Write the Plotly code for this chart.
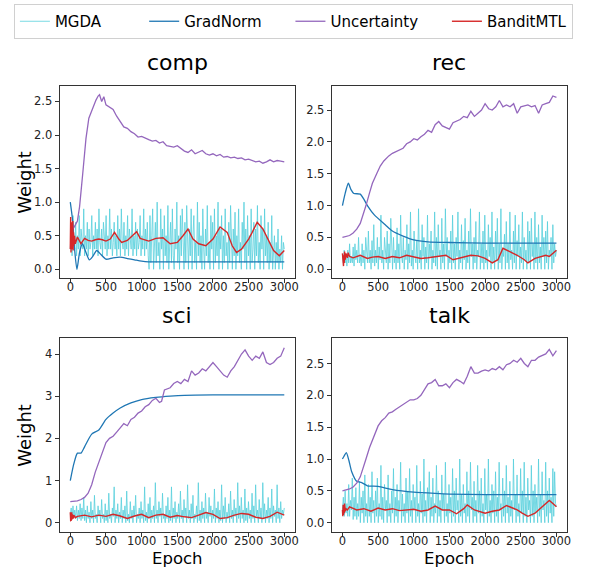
import numpy as np
import plotly.graph_objects as go

# ---------------- data ----------------
panels = ["comp", "rec", "sci", "talk"]

# MGDA (noisy), evenly spaced samples over epochs 0..3000
comp_mgda = [.3,.6,.2,.8,.4,.3,.7,.2,.5,.3,.8,.2,.6,.4,.3,.9,.2,.5,.3,.7,
             .2,.6,.3,.4,.8,.2,.5,.3,.7,.3,.6,.2,.9,.4,.3,.6,.2,.7,.4,.3,
             .8,.2,.5,.3,.9,.3,.6,.2,.4,.7,.3,.5,.2,.8,.3,.6,.2,.9,.4,.3,
             .7,.2,.5,.3,.8,.2,.6,.4,.3,.9,.2,.5,.3,.7,.2,.6,.3,.4,.8,.2,
             .5,.3,.9,.2,.6,.3,.7,.2,
             0,.8,.1,.5,.9,0,.3,.7,.1,1,.2,.4,0,.9,.3,.6,0,.8,.2,.5,
             .1,.95,0,.4,.7,.1,.9,.2,0,.6,.3,1,.1,.5,0,.8,.2,.9,.4,0,
             .7,.1,.95,.3,0,.6,.2,.9,0,.5,.8,.1,.4,0,1,.2,.7,.1,.5,0,
             .9,.3,0,.6,.2,.95,.1,.4,0,.8,.3,.7,0,.9,.1,.5,.2,1,0,.6,
             .3,.8,0,.5,.1,.9,.2,.4,0,.7,.1,.95,.3,0,.6,.2,.85,0,.5,.2,
             .9,.1,.4,0,.7,.3,1,.1,.6,0,.8,.2,.5,0,.9,.1,.3,.7,0,.6,
             .2,.95,.1,.4,0,.8,.3,.6,0,.9,.2,.5,.1,.7,0,.4,.1,.8,0,.3,
             .5,0,.4,.1,.6,0,.3,.1,.5,0,.4,.3]
rec_mgda = [.2,.1,.3,.1,.2,.05,.3,.1,.4,.1,.2,.1,.35,.05,.4,.15,.3,.1,.5,.1,
            .2,.05,.4,.1,.3,0,.5,.2,.1,.6,.1,.3,0,.45,.1,.7,.05,.3,.1,.5,
            0,.35,.15,.85,.1,.3,0,.5,.2,.1,.6,0,.4,.1,.8,.2,0,.5,.1,.3,
            0,.65,.1,.4,0,.85,.2,.1,.5,0,.3,.15,.7,0,.4,.1,.9,.05,.3,0,
            .6,.2,.1,.45,0,.95,.1,.3,0,.7,.2,.5,0,.35,.1,.85,0,.4,.2,.6,
            0,.3,.1,.9,.05,.5,0,.7,.2,.3,0,.8,.1,.4,0,.95,.2,.5,0,.3,
            .1,.6,0,.85,.1,.4,0,.5,.2,.9,0,.3,.1,.7,0,.45,.15,.8,0,.3,
            .1,.6,0,.95,.2,.4,0,.5,.1,.75,0,.3,.2,.9,0,.4,.1,.6,0,.85,
            .1,.3,0,.7,.2,.5,0,.9,.1,.35,0,.6,.15,.8,0,.4,.1,.95,0,.3,
            .2,.55,0,.75,.1,.4,0,.9,.15,.3,0,.6,.1,.85,0,.45,.2,.7,0,.35,
            .1,.9,0,.5,.15,.3,0,.75,.1,.6,0,.8,.2,.4,0,.9,.1,.5,0,.7,
            .1,.35,0,.85,.2,.5,0,.6,.1,.75,0,.3,.2,.5,0,.7,.1,.4,.2,.3]
sci_mgda = [.2,.35,.1,.4,.15,.3,.1,.4,.05,.3,.1,.45,.05,.35,.1,.6,.05,.3,0,.4,
            .1,.25,0,.5,.1,.3,0,.65,.1,.2,0,.4,.15,.3,0,.55,.1,.2,0,.45,
            .05,.3,0,.7,.1,.2,0,.35,.15,.85,0,.3,.1,.45,0,.25,.1,.6,0,.3,
            .1,.4,0,.75,.05,.2,0,.5,.1,.3,0,.4,.15,.65,0,.2,.1,.35,0,.5,
            .1,.3,0,.85,.05,.25,0,.45,.1,.6,0,.3,.1,.4,0,.95,.1,.3,0,.5,
            .15,.35,0,.7,.1,.2,0,.4,.1,.6,0,.3,.05,.85,0,.35,.1,.5,0,.25,
            .1,.45,0,.75,.1,.3,0,.55,.15,.35,0,.9,.1,.3,0,.45,.1,.65,0,.2,
            .1,.4,0,.95,.05,.3,0,.5,.1,.35,0,.7,.1,.25,0,.6,.15,.4,0,.3,
            .1,.8,0,.35,.1,.5,0,.3,.05,.9,0,.4,.1,.6,0,.25,.1,.45,0,.75,
            .1,.3,0,.55,.15,.35,0,.95,.1,.4,0,.6,.1,.3,0,.8,.05,.35,0,.5,
            .1,.3,0,.7,.1,.4,0,.9,.15,.3,0,.55,.1,.35,0,.95,.1,.45,0,.3,
            .1,.6,0,.35,.1,.8,0,.4,.15,.3,0,.9,.1,.35,0,.5,.1,.3,.2,.35]
talk_mgda = [.2,.4,.1,.5,.15,.3,.1,.6,.1,.35,.2,.7,.05,.4,.1,.55,.05,.3,.1,.65,
             0,.4,.15,.5,0,.75,.1,.3,0,.6,.1,.4,0,.8,.15,.35,0,.5,.1,.7,
             0,.3,.1,.9,.05,.4,0,.6,.2,.35,0,.75,.1,.3,0,.5,.15,.85,0,.4,
             .1,.6,0,.35,.2,.95,0,.45,.1,.3,0,.7,.15,.5,0,.85,.1,.35,0,.6,
             .2,.4,0,.9,.1,.3,0,.65,.15,.45,0,1,.1,.35,0,.55,.2,.8,0,.4,
             .1,.7,0,.3,.15,.9,0,.5,.1,.35,0,.75,.2,.45,0,.95,.1,.3,0,.6,
             .15,.4,0,.85,.1,.5,0,.7,.2,.35,0,1,.1,.45,0,.6,.15,.3,0,.8,
             .1,.5,0,.95,.2,.4,0,.65,.1,.35,0,.9,.15,.5,0,.7,.1,.3,0,.85,
             .2,.45,0,1,.1,.35,0,.6,.15,.5,0,.8,.1,.4,0,.95,.2,.3,0,.7,
             .1,.5,0,.9,.15,.4,0,.65,.1,.35,0,1,.2,.45,0,.75,.1,.3,0,.85,
             .15,.5,0,.95,.1,.4,0,.7,.2,.35,0,.9,.1,.5,0,.6,.15,.4,0,1,
             .1,.45,0,.8,.2,.35,0,.95,.1,.5,0,.7,.15,.4,0,.85,.1,.8,.3,.25]

# GradNorm
comp_gn_x = [0,30,60,93,130,170,220,268,320,370,430,500,600,700,800,900,1000,1100,1300,1600,2000,2500,3000]
comp_gn_y = [1.0,0.75,0.3,0.0,0.25,0.38,0.25,0.14,0.2,0.28,0.22,0.15,0.17,0.18,0.16,0.14,0.12,0.11,0.11,0.11,0.11,0.11,0.11]
rec_gn_x = [0,40,83,120,160,250,300,350,450,600,700,850,1000,1200,1500,2000,2500,3000]
rec_gn_y = [1.0,1.2,1.35,1.25,1.19,1.18,1.1,1.0,0.85,0.7,0.6,0.52,0.46,0.43,0.42,0.41,0.41,0.41]
sci_gn_x = [0,50,100,150,200,300,400,500,600,700,850,1000,1200,1400,1600,2000,2500,3000]
sci_gn_y = [1.0,1.4,1.65,1.65,1.8,2.1,2.2,2.45,2.6,2.72,2.84,2.92,2.97,3.0,3.02,3.03,3.03,3.03]
talk_gn_x = [0,25,55,90,130,200,270,350,500,700,1000,1300,1500,2000,2500,3000]
talk_gn_y = [1.0,1.05,1.1,0.98,0.8,0.65,0.63,0.58,0.57,0.52,0.48,0.46,0.45,0.44,0.44,0.44]

# Uncertainty
comp_un_x = [0,50,100,130,175,220,260,300,330,360,390,410,440,470,500,550,600,650,700,750,800,850,900,950,1000,1050,1100,1150,1200,1250,1300,1350,1400,1450,1500,1550,1600,1650,1700,1750,1800,1850,1900,1950,2000,2050,2100,2150,2200,2250,2300,2350,2400,2450,2500,2550,2600,2650,2700,2750,2800,2850,2900,2950,3000]
comp_un_y = [0.57,0.62,0.72,0.93,1.43,1.95,2.25,2.37,2.45,2.52,2.58,2.6,2.5,2.57,2.45,2.42,2.38,2.28,2.2,2.12,2.1,2.05,2.02,1.97,1.98,1.95,1.93,1.91,1.92,1.88,1.9,1.84,1.83,1.82,1.84,1.8,1.76,1.74,1.78,1.72,1.75,1.77,1.72,1.7,1.72,1.69,1.71,1.67,1.68,1.66,1.67,1.65,1.66,1.63,1.64,1.62,1.6,1.61,1.58,1.6,1.63,1.6,1.62,1.61,1.6]
rec_un_x = [0,100,150,200,250,300,330,380,420,480,530,580,650,700,750,800,850,900,950,1000,1050,1100,1150,1200,1250,1300,1350,1400,1450,1500,1550,1600,1650,1700,1750,1800,1850,1900,1950,2000,2050,2100,2150,2200,2250,2300,2350,2400,2450,2500,2550,2600,2650,2700,2750,2800,2850,2900,2950,3000]
rec_un_y = [0.5,0.53,0.57,0.63,0.72,0.88,1.0,1.2,1.35,1.5,1.62,1.7,1.78,1.82,1.85,1.88,1.9,1.97,2.0,2.05,2.03,2.08,2.12,2.18,2.15,2.27,2.32,2.25,2.22,2.2,2.3,2.33,2.35,2.4,2.38,2.48,2.4,2.45,2.5,2.6,2.52,2.5,2.55,2.65,2.55,2.58,2.55,2.6,2.45,2.55,2.57,2.58,2.55,2.57,2.45,2.58,2.6,2.62,2.72,2.7]
sci_un_x = [0,100,150,200,250,300,350,400,450,500,550,600,650,700,750,800,850,900,950,1000,1050,1100,1150,1200,1250,1280,1320,1400,1450,1500,1550,1600,1650,1700,1750,1800,1850,1900,1950,2000,2050,2100,2150,2200,2250,2300,2350,2400,2450,2500,2550,2600,2650,2700,2750,2800,2850,2900,2950,3000]
sci_un_y = [0.5,0.52,0.55,0.6,0.7,0.9,1.2,1.45,1.65,1.9,2.0,2.05,2.15,2.25,2.35,2.3,2.45,2.5,2.6,2.65,2.75,2.8,2.9,2.95,2.85,2.88,3.15,3.2,3.3,3.35,3.3,3.4,3.35,3.6,3.5,3.55,3.65,3.6,3.7,3.8,3.7,3.6,3.5,3.45,3.6,3.7,3.85,4.0,4.1,3.95,3.85,3.95,3.9,4.05,3.8,3.75,3.8,3.9,3.95,4.15]
talk_un_x = [0,100,150,200,250,300,330,380,420,460,500,550,600,650,700,750,800,850,900,950,1000,1050,1100,1150,1200,1250,1300,1350,1400,1450,1500,1550,1600,1650,1700,1750,1800,1850,1900,1950,2000,2050,2100,2150,2200,2250,2300,2350,2400,2450,2500,2550,2600,2650,2700,2750,2800,2850,2900,2950,3000]
talk_un_y = [0.5,0.53,0.56,0.62,0.72,0.88,1.0,1.18,1.3,1.42,1.52,1.6,1.65,1.72,1.74,1.78,1.82,1.86,1.9,1.93,1.93,1.95,2.0,2.1,2.18,2.2,2.25,2.15,2.15,2.18,2.12,2.2,2.25,2.22,2.18,2.3,2.45,2.35,2.35,2.38,2.4,2.38,2.42,2.4,2.45,2.4,2.48,2.5,2.55,2.52,2.58,2.5,2.45,2.55,2.55,2.6,2.62,2.65,2.72,2.62,2.7]

# BanditMTL
comp_bm_x = [0,5,10,15,20,25,30,35,40,45,50,60,70,100,150,200,250,300,350,400,450,500,560,620,680,720,800,870,930,980,1050,1100,1200,1300,1400,1500,1580,1650,1720,1800,1900,2000,2100,2200,2270,2330,2400,2450,2500,2550,2620,2700,2780,2850,2930,3000]
comp_bm_y = [0.3,0.78,0.25,0.7,0.35,0.6,0.3,0.72,0.28,0.55,0.35,0.5,0.38,0.48,0.38,0.46,0.43,0.42,0.44,0.45,0.44,0.42,0.45,0.55,0.45,0.4,0.43,0.5,0.56,0.46,0.44,0.42,0.46,0.47,0.38,0.4,0.5,0.6,0.45,0.38,0.35,0.45,0.63,0.55,0.35,0.25,0.3,0.38,0.45,0.55,0.7,0.6,0.42,0.28,0.2,0.28]
rec_bm_x = [0,5,10,15,20,25,30,40,50,60,70,80,100,150,250,350,420,500,600,700,800,900,1000,1100,1200,1300,1450,1550,1650,1700,1800,1900,2000,2100,2180,2250,2350,2450,2550,2600,2700,2800,2850,2900,3000]
rec_bm_y = [0.25,0.08,0.25,0.05,0.22,0.1,0.28,0.15,0.25,0.2,0.18,0.26,0.2,0.18,0.22,0.17,0.19,0.2,0.17,0.2,0.18,0.22,0.19,0.17,0.18,0.2,0.22,0.15,0.18,0.2,0.22,0.21,0.17,0.1,0.15,0.33,0.28,0.22,0.15,0.1,0.17,0.2,0.22,0.2,0.3]
sci_bm_x = [0,5,10,15,20,25,30,40,50,70,100,200,300,400,500,600,700,800,900,1000,1100,1200,1300,1400,1500,1600,1700,1800,1900,2000,2100,2200,2300,2400,2500,2600,2700,2800,2900,3000]
sci_bm_y = [0.25,0.05,0.22,0.06,0.25,0.08,0.2,0.1,0.18,0.12,0.15,0.18,0.14,0.18,0.15,0.2,0.16,0.1,0.16,0.2,0.12,0.18,0.2,0.13,0.17,0.14,0.12,0.18,0.24,0.2,0.1,0.12,0.18,0.22,0.2,0.13,0.1,0.15,0.25,0.18]
talk_bm_x = [0,5,10,15,20,25,30,40,50,70,100,200,300,400,500,600,700,800,900,1000,1100,1200,1300,1400,1500,1600,1700,1750,1850,2000,2100,2200,2300,2400,2450,2520,2600,2700,2800,2900,2950,3000]
talk_bm_y = [0.2,0.1,0.28,0.12,0.25,0.15,0.3,0.18,0.22,0.2,0.25,0.2,0.22,0.18,0.23,0.2,0.22,0.19,0.2,0.21,0.18,0.2,0.26,0.2,0.2,0.14,0.22,0.28,0.2,0.15,0.18,0.2,0.27,0.22,0.2,0.15,0.1,0.15,0.25,0.35,0.3,0.25]

y_ranges = [(-0.13, 2.73), (-0.137, 2.877), (-0.22, 4.38), (-0.146, 2.90)]
x_ticks = [0, 500, 1000, 1500, 2000, 2500, 3000]
y_ticks = [[0.0, 0.5, 1.0, 1.5, 2.0, 2.5], [0.0, 0.5, 1.0, 1.5, 2.0, 2.5],
           [0, 1, 2, 3, 4], [0.0, 0.5, 1.0, 1.5, 2.0, 2.5]]
y_ticktext = [["0.0", "0.5", "1.0", "1.5", "2.0", "2.5"], ["0.0", "0.5", "1.0", "1.5", "2.0", "2.5"],
              ["0", "1", "2", "3", "4"], ["0.0", "0.5", "1.0", "1.5", "2.0", "2.5"]]
legend_names = ["MGDA", "GradNorm", "Uncertainty", "BanditMTL"]

mgda = [comp_mgda, rec_mgda, sci_mgda, talk_mgda]
gn = [(comp_gn_x, comp_gn_y), (rec_gn_x, rec_gn_y), (sci_gn_x, sci_gn_y), (talk_gn_x, talk_gn_y)]
un = [(comp_un_x, comp_un_y), (rec_un_x, rec_un_y), (sci_un_x, sci_un_y), (talk_un_x, talk_un_y)]
bm = [(comp_bm_x, comp_bm_y), (rec_bm_x, rec_bm_y), (sci_bm_x, sci_bm_y), (talk_bm_x, talk_bm_y)]

# ---------------- style ----------------
W, H = 590, 568
FONT = "DejaVu Sans"
C_MGDA, C_GN, C_UN, C_BM = "#17becf", "#1f77b4", "#9467bd", "#d62728"
NB = "\u00a0"
legend_pads = [NB * 8, NB * 5, NB * 5, ""]

# pixel boxes for plot areas (left, right, top, bottom)
boxes = [(60, 297, 86, 278), (334, 571, 86, 278), (60, 297, 338, 532), (334, 571, 338, 532)]
title_base = [77, 77, 330, 330]

fig = go.Figure()
layout = dict(width=W, height=H, margin=dict(l=0, r=0, t=0, b=0),
              paper_bgcolor="white", plot_bgcolor="white",
              font=dict(family=FONT, color="black"), showlegend=True)

annotations = []
for i, name in enumerate(panels):
    xa = "x" if i == 0 else f"x{i+1}"
    ya = "y" if i == 0 else f"y{i+1}"
    l, r, t, b = boxes[i]
    xkey = "xaxis" if i == 0 else f"xaxis{i+1}"
    ykey = "yaxis" if i == 0 else f"yaxis{i+1}"
    axis_common = dict(showgrid=False, zeroline=False, showline=True, mirror=True,
                       linecolor="#333333", linewidth=1, ticks="outside", ticklen=4,
                       tickwidth=1, tickcolor="#333333",
                       tickfont=dict(family=FONT, size=11.5, color="#222222"))
    layout[xkey] = dict(domain=[l / W, r / W], range=[-150, 3150], tickvals=x_ticks,
                        ticktext=[str(v) for v in x_ticks], anchor=ya,
                        ticklabelstandoff=-6, **axis_common)
    layout[ykey] = dict(domain=[1 - b / H, 1 - t / H], range=list(y_ranges[i]),
                        tickvals=y_ticks[i], ticktext=y_ticktext[i], anchor=xa, **axis_common)

    mx = list(np.linspace(0, 3000, len(mgda[i])))
    show = (i == 0)
    fig.add_trace(go.Scatter(x=mx, y=mgda[i], mode="lines", name=legend_names[0] + legend_pads[0], legendgroup="MGDA",
                             showlegend=show, line=dict(color=C_MGDA, width=0.8), opacity=0.72,
                             xaxis=xa, yaxis=ya))
    fig.add_trace(go.Scatter(x=gn[i][0], y=gn[i][1], mode="lines", name=legend_names[1] + legend_pads[1], legendgroup="GradNorm",
                             showlegend=show, line=dict(color=C_GN, width=1.3, shape="spline", smoothing=0.6),
                             xaxis=xa, yaxis=ya))
    fig.add_trace(go.Scatter(x=un[i][0], y=un[i][1], mode="lines", name=legend_names[2] + legend_pads[2], legendgroup="Uncertainty",
                             showlegend=show, line=dict(color=C_UN, width=1.3),
                             xaxis=xa, yaxis=ya))
    fig.add_trace(go.Scatter(x=bm[i][0], y=bm[i][1], mode="lines", name=legend_names[3] + legend_pads[3], legendgroup="BanditMTL",
                             showlegend=show, line=dict(color=C_BM, width=1.4),
                             xaxis=xa, yaxis=ya))

    # subplot title
    annotations.append(dict(text=name, x=(l + r) / 2 / W, y=1 - title_base[i] / H, xref="paper", yref="paper",
                            xanchor="center", yanchor="bottom", showarrow=False,
                            font=dict(family=FONT, size=22, color="black")))
    if i in (0, 2):
        annotations.append(dict(text="Weight", x=24 / W, y=1 - (t + b) / 2 / H, xref="paper", yref="paper",
                                xanchor="center", yanchor="middle", textangle=-90, showarrow=False,
                                font=dict(family=FONT, size=18, color="black")))
    if i in (2, 3):
        annotations.append(dict(text="Epoch", x=(l + r) / 2 / W, y=1 - 569.5 / H, xref="paper", yref="paper",
                                xanchor="center", yanchor="bottom", showarrow=False,
                                font=dict(family=FONT, size=16.5, color="black")))

layout["annotations"] = annotations
layout["legend"] = dict(orientation="h", x=14 / W, xanchor="left", y=1 - 4 / H, yanchor="top",
                        bordercolor="#d0d0d0", borderwidth=1, bgcolor="white",
                        font=dict(family=FONT, size=15, color="black"),
                        itemwidth=30, traceorder="normal")
fig.update_layout(**layout)
fig.write_html("out.html")
